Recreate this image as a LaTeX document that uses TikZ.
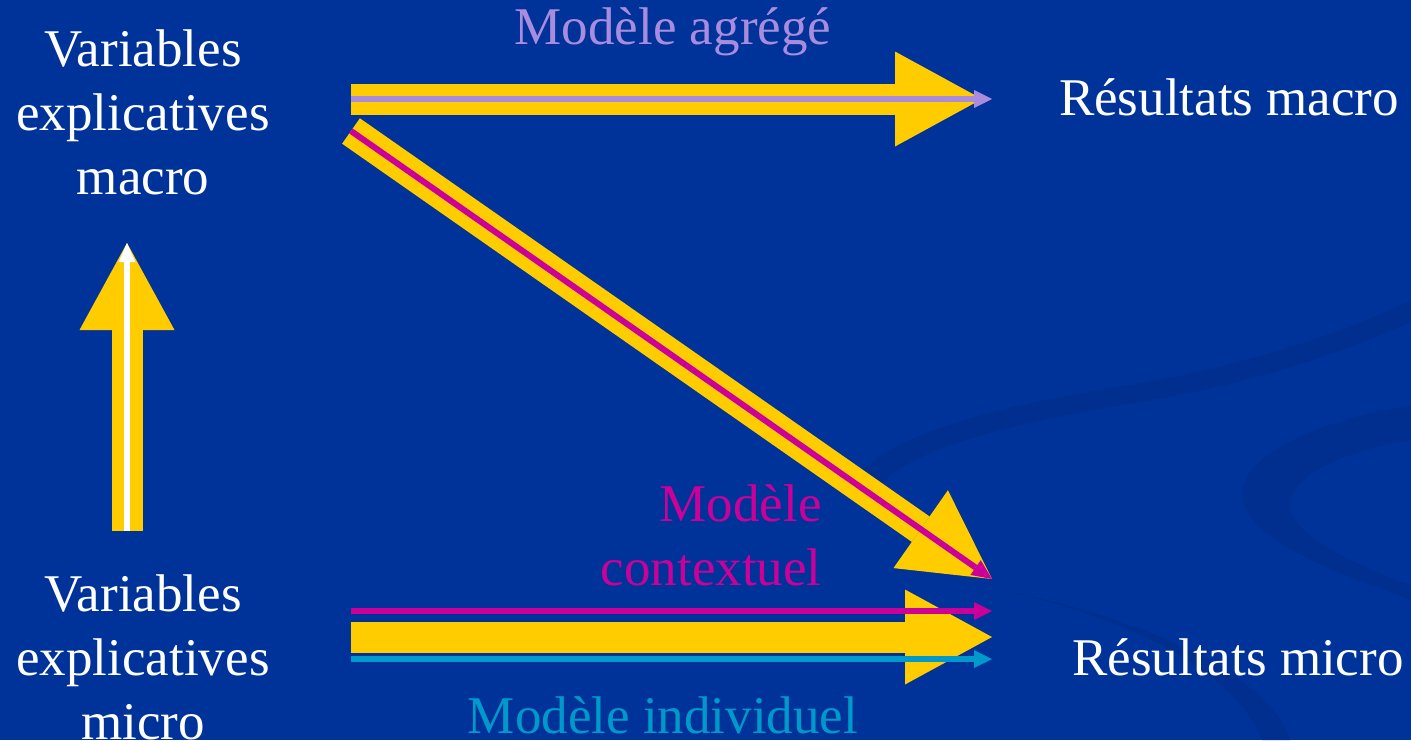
\documentclass[tikz,border=0pt]{standalone}
\usepackage{fontspec}
\setmainfont{Liberation Serif}
\usetikzlibrary{arrows.meta}
\definecolor{bg}{RGB}{0,51,153}
\definecolor{swirl}{RGB}{0,47,143}
\definecolor{gold}{RGB}{255,204,0}
\definecolor{lav}{RGB}{170,140,222}
\definecolor{mag}{RGB}{204,0,153}
\definecolor{cyanb}{RGB}{0,153,204}
\tikzset{
  txt/.style={inner sep=0pt, font=\fontsize{26.5pt}{32pt}\selectfont},
  fat/.style={draw=gold, line width=15.5pt, -{Triangle[length=43.5pt,width=47.5pt,line width=0pt]}},
  thin/.style={line width=3pt, -{Triangle[length=9pt,width=9pt,line width=0pt]}}
}
\begin{document}
\begin{tikzpicture}[x=0.5pt,y=-0.5pt]
\fill[bg] (0,0) rectangle (1411,740);
\useasboundingbox (0,0) rectangle (1411,740);
% background swirls
\fill[swirl] (850,500) .. controls (850,440) and (1000,405) .. (1130,385)
  .. controls (1250,365) and (1350,330) .. (1411,300) -- (1411,322)
  .. controls (1350,350) and (1250,385) .. (1140,402)
  .. controls (1000,425) and (880,455) .. (870,505) -- cycle;
\fill[swirl] (1411,405) .. controls (1320,420) and (1240,455) .. (1242,495)
  .. controls (1245,540) and (1330,570) .. (1411,600) -- (1411,585)
  .. controls (1340,560) and (1290,530) .. (1290,505)
  .. controls (1292,470) and (1360,448) .. (1411,440) -- cycle;
\fill[swirl] (990,588) .. controls (1100,610) and (1230,660) .. (1262,740)
  -- (1290,740) .. controls (1270,670) and (1120,610) .. (990,588) -- cycle;
% coordinates
\coordinate (aggS) at (351,99);  \coordinate (aggE) at (982,99);  \coordinate (aggL) at (992,99);
\coordinate (ctxS) at (351,131); \coordinate (ctxE) at (992,579);
\coordinate (micS) at (351,637); \coordinate (micE) at (992,637);
\coordinate (mgS) at (351,611);  \coordinate (mgE) at (992,611);
\coordinate (cyS) at (351,659);  \coordinate (cyE) at (992,659);
\coordinate (upS) at (127,531);  \coordinate (upE) at (127,243);
% fat yellow arrows
\draw[fat] (aggS) -- (aggE);
\draw[fat] (ctxS) -- (ctxE);
\draw[fat] (micS) -- (micE);
\draw[fat] (upS) -- (upE);
% thin coloured arrows
\draw[thin, lav] (aggS) -- (aggL);
\draw[thin, mag, -{Triangle[length=10pt,width=9pt,line width=0pt]}] (ctxS) -- (ctxE);
\draw[thin, mag] (mgS) -- (mgE);
\draw[thin, cyanb] (cyS) -- (cyE);
\draw[thin, white, -{Triangle[length=9.5pt,width=8.5pt,line width=0pt]}] (upS) -- (upE);
% texts
\node[txt, white, align=center] (vmac) at (143,112) {Variables\\explicatives\\macro};
\node[txt, white, align=center] (vmic) at (143,657) {Variables\\explicatives\\micro};
\node[txt, white] (rmac) at (1229,97) {Résultats macro};
\node[txt, white] (rmic) at (1238,657) {Résultats micro};
\node[txt, lav] (lagg) at (673,32) {Modèle agrégé};
\node[txt, mag, align=right, anchor=east] (lctx) at (822,535) {Modèle\\contextuel};
\node[txt, cyanb] (lind) at (663,715) {Modèle individuel};
\end{tikzpicture}
\end{document}
